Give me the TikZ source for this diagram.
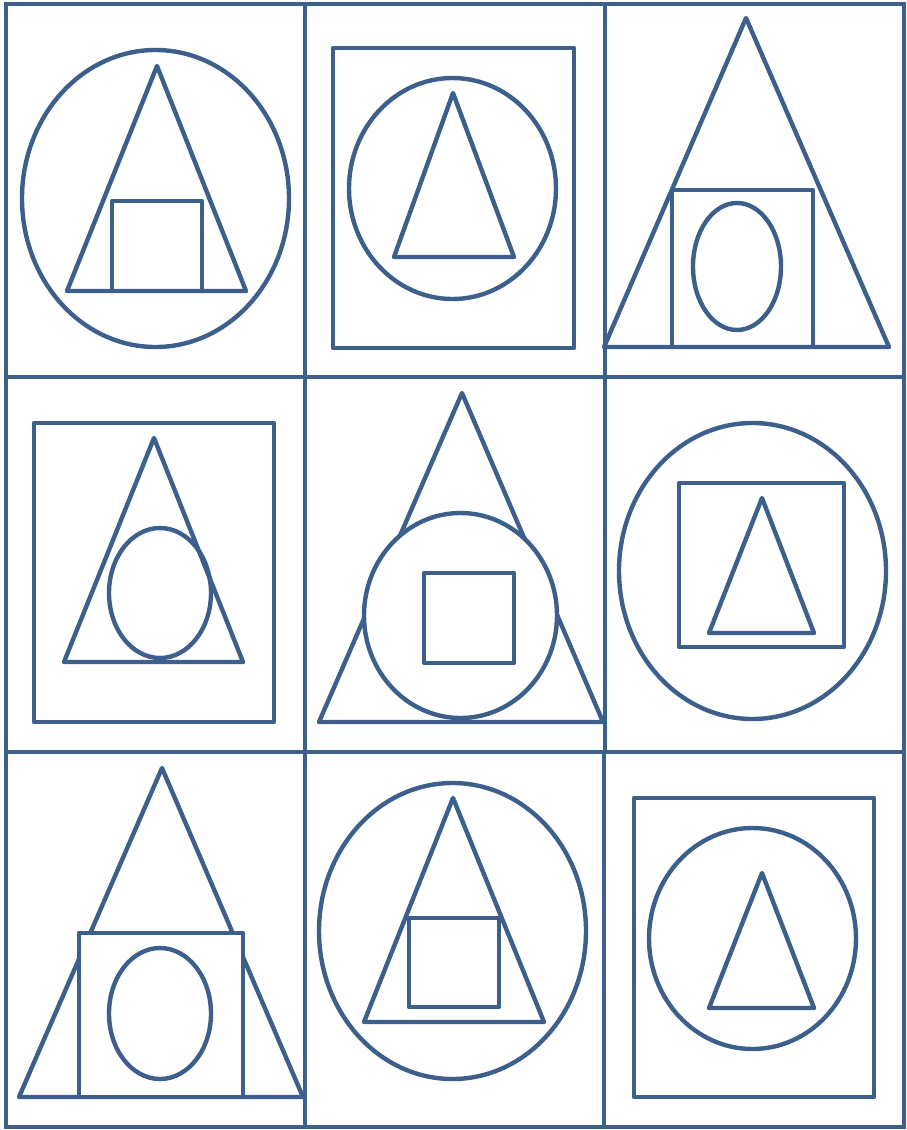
\documentclass[tikz,border=0pt]{standalone}
\usepackage{tikz}

\definecolor{shapeblue}{RGB}{61,95,140}

\begin{document}
\begin{tikzpicture}[
  x=1pt, y=-1pt,
  grd/.style={draw=shapeblue, line width=4.4pt, line join=miter},
  shp/.style={draw=shapeblue, line width=4.4pt, line join=round, line cap=round},
  cover/.style={shp, fill=white},
]
  \useasboundingbox (0,0) rectangle (907,1130);

  %% grid of nine cells
  \draw[grd] (6,4) rectangle (904,1127);
  \draw[grd] (305,4) -- (305,752) (605,4) -- (605,752);
  \draw[grd] (305,752) -- (305,1127) (604,752) -- (604,1127);
  \draw[grd] (6,377) -- (904,377) (6,752) -- (904,752);

  %% row 1, left: ellipse > triangle > square
  \draw[shp] (155.5,198.5) ellipse [x radius=133.5, y radius=148.5];
  \draw[shp] (157,66) -- (246,291) -- (67,291) -- cycle;
  \draw[shp] (112,201) rectangle (202,291);

  %% row 1, middle: rectangle > ellipse > triangle
  \draw[shp] (333,48) rectangle (574,348);
  \draw[shp] (452.5,188.5) ellipse [x radius=103.5, y radius=110.5];
  \draw[shp] (453,93) -- (514,257) -- (394,257) -- cycle;

  %% row 1, right: triangle > square > ellipse
  \draw[shp] (746,18) -- (889,347) -- (604,347) -- cycle;
  \draw[shp] (672,190) rectangle (813,347);
  \draw[shp] (737,266.5) ellipse [x radius=44, y radius=63.5];

  %% row 2, left: rectangle > triangle > ellipse
  \draw[shp] (34,423) rectangle (274,722);
  \draw[shp] (154,438) -- (243,662) -- (64,662) -- cycle;
  \draw[shp] (160,593) ellipse [x radius=51, y radius=65];

  %% row 2, middle: triangle > ellipse (on top) > square
  \draw[shp] (462,393) -- (603,722) -- (319,722) -- cycle;
  \draw[cover] (460.5,615.5) ellipse [x radius=96.5, y radius=102.5];
  \draw[shp] (424,573) rectangle (514,663);

  %% row 2, right: ellipse > rectangle > triangle
  \draw[shp] (752.5,571) ellipse [x radius=133.5, y radius=148];
  \draw[shp] (679,483) rectangle (844,647);
  \draw[shp] (762,498) -- (814,633) -- (709,633) -- cycle;

  %% row 3, left: triangle > square (on top) > ellipse
  \draw[shp] (162,768) -- (303,1097) -- (19,1097) -- cycle;
  \draw[cover] (79,933) rectangle (243,1097);
  \draw[shp] (160,1013.5) ellipse [x radius=51, y radius=65.5];

  %% row 3, middle: ellipse > triangle > square
  \draw[shp] (452.5,931) ellipse [x radius=133.5, y radius=148];
  \draw[shp] (453,798) -- (544,1022) -- (364,1022) -- cycle;
  \draw[shp] (409,918) rectangle (499,1007);

  %% row 3, right: rectangle > ellipse > triangle
  \draw[shp] (634,798) rectangle (874,1097);
  \draw[shp] (752.5,938.5) ellipse [x radius=103.5, y radius=110.5];
  \draw[shp] (762,873) -- (814,1008) -- (709,1008) -- cycle;
\end{tikzpicture}
\end{document}
